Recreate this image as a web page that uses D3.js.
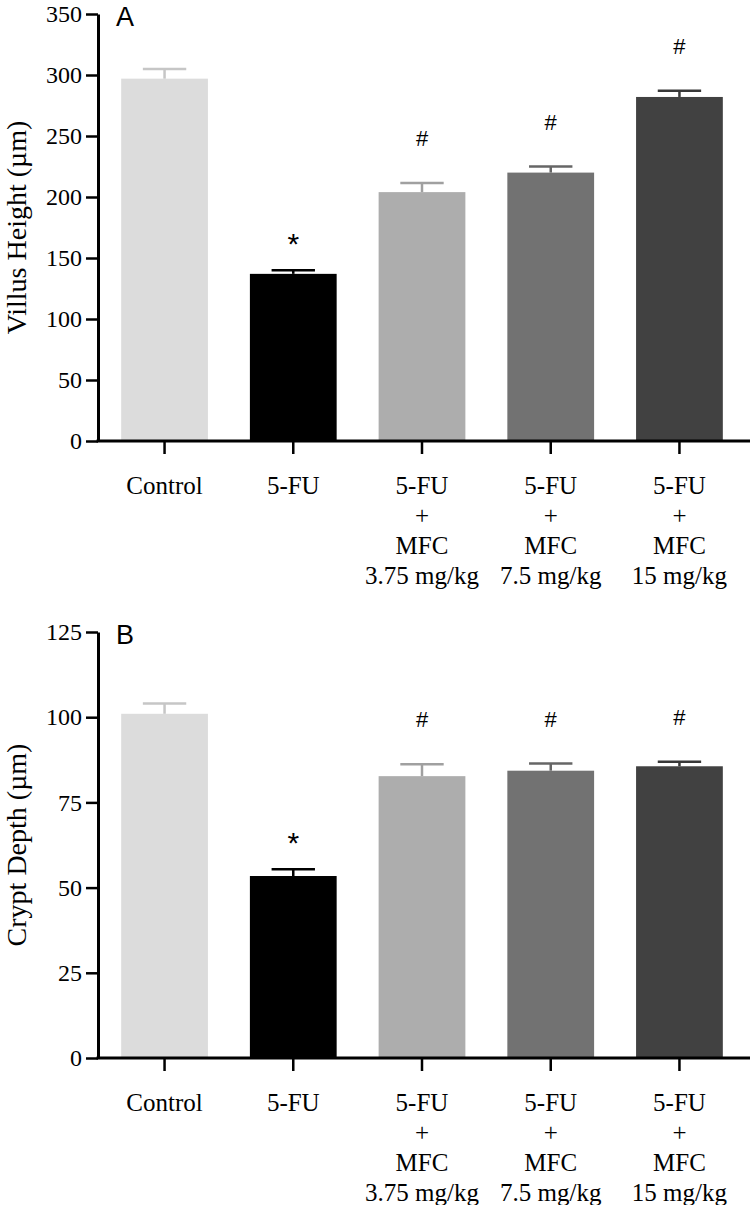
<!DOCTYPE html>
<html>
<head>
<meta charset="utf-8">
<script src="https://cdn.jsdelivr.net/npm/d3@7"></script>
<style>
	body { margin: 0; background: #fff; }
	svg { display: block; }
	.tick text { font-family: "Liberation Serif", "Times New Roman", serif; }
</style>
</head>
<body>
<script>
// groups on the x axis, each label split into lines
var groups = ["Control", "5-FU", "MFC 3.75", "MFC 7.5", "MFC 15"];
var groupLabels = [
	["Control"],
	["5-FU"],
	["5-FU", "+", "MFC", "3.75 mg/kg"],
	["5-FU", "+", "MFC", "7.5 mg/kg"],
	["5-FU", "+", "MFC", "15 mg/kg"]
];

// panel A - villus height (um)
var villusMean = [297, 137, 204, 220, 282];
var villusErr = [8, 3, 7.5, 5, 5];
var villusSig = ["", "*", "#", "#", "#"];
var villusTicks = [0, 50, 100, 150, 200, 250, 300, 350];

// panel B - crypt depth (um)
var cryptMean = [101, 53.4, 82.7, 84.3, 85.6];
var cryptErr = [3, 2, 3.5, 2.1, 1.3];
var cryptSig = ["", "*", "#", "#", "#"];
var cryptTicks = [0, 25, 50, 75, 100, 125];

var barColors = ["#dcdcdc", "#000000", "#adadad", "#727272", "#414141"];
var errColors = ["#c6c6c6", "#000000", "#a0a0a0", "#666666", "#383838"];

var w = 750,
		h = 1205;
var svg = d3.select('body').append('svg').attr("width", w).attr("height", h);

var x = d3.scaleBand()
	.domain(groups)
	.range([98, 746])
	.paddingInner(0.326)
	.paddingOuter(0.18);

drawPanel({
	letter: "A",
	title: "Villus Height (\u00b5m)",
	mean: villusMean,
	err: villusErr,
	sig: villusSig,
	ticks: villusTicks,
	top: 14,
	bottom: 441
});

drawPanel({
	letter: "B",
	title: "Crypt Depth (\u00b5m)",
	mean: cryptMean,
	err: cryptErr,
	sig: cryptSig,
	ticks: cryptTicks,
	top: 632,
	bottom: 1058
});

function drawPanel(p) {

	var g = svg.append('g');
	var ymax = p.ticks[p.ticks.length - 1];
	var y = d3.scaleLinear().domain([0, ymax]).range([p.bottom, p.top]);

	var data = groups.map(function(k, i) {
		return { key: k, mean: p.mean[i], err: p.err[i], sig: p.sig[i], i: i };
	});

	// bars
	g.selectAll('rect.bar').data(data).enter().append('rect')
		.attr("class", "bar")
		.attr("x", function(d) { return x(d.key); })
		.attr("width", x.bandwidth())
		.attr("y", function(d) { return y(d.mean); })
		.attr("height", function(d) { return y(0) - y(d.mean); })
		.attr("fill", function(d) { return barColors[d.i]; });

	// upper error bars (stem + cap)
	var capHalf = x.bandwidth() / 4;
	var eb = g.selectAll('g.err').data(data).enter().append('g')
		.attr("class", "err")
		.attr("stroke", function(d) { return errColors[d.i]; })
		.attr("stroke-width", 2.5);
	eb.append('line')
		.attr("x1", function(d) { return x(d.key) + x.bandwidth() / 2; })
		.attr("x2", function(d) { return x(d.key) + x.bandwidth() / 2; })
		.attr("y1", function(d) { return y(d.mean); })
		.attr("y2", function(d) { return y(d.mean + d.err); });
	eb.append('line')
		.attr("x1", function(d) { return x(d.key) + x.bandwidth() / 2 - capHalf; })
		.attr("x2", function(d) { return x(d.key) + x.bandwidth() / 2 + capHalf; })
		.attr("y1", function(d) { return y(d.mean + d.err); })
		.attr("y2", function(d) { return y(d.mean + d.err); });

	// significance marks, '*' sits higher in the font so it gets a smaller offset
	g.selectAll('text.sig').data(data.filter(function(d) { return d.sig; })).enter().append('text')
		.attr("class", "sig")
		.attr("x", function(d) { return x(d.key) + x.bandwidth() / 2; })
		.attr("y", function(d) { return y(d.mean + d.err) - (d.sig == "*" ? 16 : 37); })
		.attr("text-anchor", "middle")
		.style("font-family", "'Liberation Sans', Arial, sans-serif")
		.style("font-size", function(d) { return d.sig == "*" ? "30px" : "22px"; })
		.text(function(d) { return d.sig; });

	// y axis
	var yAxis = g.append('g')
		.attr("transform", "translate(98,0)")
		.call(d3.axisLeft(y).tickValues(p.ticks).tickSize(12).tickPadding(4).tickSizeOuter(0));
	yAxis.select('.domain').attr("stroke-width", 3);
	yAxis.selectAll('.tick line').attr("stroke-width", 2.5);
	yAxis.selectAll('.tick text').style("font-size", "24px").attr("fill", "#000");

	// x axis
	var xAxis = g.append('g')
		.attr("transform", "translate(0," + p.bottom + ")")
		.call(d3.axisBottom(x).tickSize(13).tickSizeOuter(0).tickFormat(""));
	xAxis.select('.domain').remove();
	xAxis.selectAll('.tick line').attr("stroke-width", 2.5);
	xAxis.append('line')
		.attr("x1", 96.5).attr("x2", w)
		.attr("stroke", "#000").attr("stroke-width", 3);

	// multi-line category labels
	var lab = g.selectAll('text.xlab').data(data).enter().append('text')
		.attr("class", "xlab")
		.attr("text-anchor", "middle")
		.style("font-family", "'Liberation Serif', 'Times New Roman', serif")
		.style("font-size", "25px")
		.attr("transform", function(d) {
			return "translate(" + (x(d.key) + x.bandwidth() / 2) + "," + (p.bottom + 53) + ")";
		});
	lab.selectAll('tspan').data(function(d) { return groupLabels[d.i]; }).enter().append('tspan')
		.attr("x", 0)
		.attr("y", function(d, j) { return j * 30; })
		.text(function(d) { return d; });

	// axis title
	g.append('text')
		.attr("transform", "translate(26," + (p.top + p.bottom) / 2 + ") rotate(-90)")
		.attr("text-anchor", "middle")
		.style("font-family", "'Liberation Serif', 'Times New Roman', serif")
		.style("font-size", "28px")
		.text(p.title);

	// panel letter
	g.append('text')
		.attr("x", 116)
		.attr("y", p.top + 12)
		.style("font-family", "'Liberation Sans', Arial, sans-serif")
		.style("font-size", "27px")
		.text(p.letter);
}
</script>
</body>
</html>
